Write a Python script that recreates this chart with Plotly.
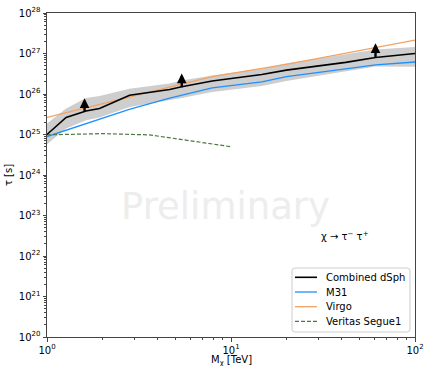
import math
import plotly.graph_objects as go

# ---- data ----
mass_dsph = [1.0, 1.27, 1.63, 1.93, 2.81, 4.64, 5.4, 7.9, 14.7, 20.0, 42.0, 61.0, 100.0]
tau_dsph = [1.0e25, 2.63e25, 3.80e25, 4.37e25, 9.33e25, 1.29e26, 1.51e26, 2.09e26, 3.02e26, 3.89e26, 6.03e26, 7.94e26, 1.0e27]
band_hi = [1.86e25, 4.37e25, 7.94e25, 8.91e25, 1.35e26, 1.82e26, 2.14e26, 2.88e26, 4.27e26, 5.75e26, 9.55e26, 1.26e27, 1.45e27]
band_lo = [5.75e24, 1.41e25, 2.24e25, 2.63e25, 4.79e25, 6.92e25, 7.94e25, 1.12e26, 1.58e26, 2.09e26, 3.55e26, 4.79e26, 4.68e26]

mass_m31 = [1.0, 1.6, 2.8, 4.64, 7.9, 14.7, 20.0, 42.0, 61.0, 100.0]
tau_m31 = [8.9e24, 1.78e25, 4.17e25, 7.94e25, 1.41e26, 2.0e26, 2.69e26, 4.17e26, 5.25e26, 6.17e26]

mass_virgo = [1.0, 4.64, 7.9, 20.0, 61.0, 100.0]
tau_virgo = [2.63e25, 1.48e26, 2.69e26, 5.37e26, 1.41e27, 2.14e27]

mass_segue = [1.0, 2.0, 3.6, 4.64, 7.9, 10.0]
tau_segue = [9.8e24, 1.05e25, 9.8e24, 8.3e24, 6.0e24, 5.0e24]

limit_mass = [1.6, 5.4, 61.0]
limit_base = [3.3e25, 1.35e26, 7.4e26]
limit_top = [7.8e25, 3.2e26, 1.78e27]

y_tickvals = [10.0 ** k for k in range(20, 29)]
y_ticktext = ["10<sup>%d</sup>" % k for k in range(20, 29)]
x_tickvals = [1, 10, 100]
x_ticktext = ["10<sup>0</sup>", "10<sup>1</sup>", "10<sup>2</sup>"]

legend_names = ["Combined dSph", "M31", "Virgo", "Veritas Segue1"]
legend_colors = ["black", "#1e90ff", "#f4a261", "#4a7a3f"]
legend_dash = ["solid", "solid", "solid", "4px,2px"]
legend_widths = [1.6, 1.3, 1.3, 1.2]

FONT = "DejaVu Sans"
W, H = 424, 366
ML, MR, MT, MB = 47, 9, 13, 29
PW, PH = W - ML - MR, H - MT - MB


def px(x):
    return (x - ML) / PW


def py(y):
    return (H - MB - y) / PH


fig = go.Figure()

# uncertainty band
fig.add_trace(go.Scatter(x=mass_dsph, y=band_hi, mode="lines", line=dict(width=0),
                         showlegend=False, hoverinfo="skip"))
fig.add_trace(go.Scatter(x=mass_dsph, y=band_lo, mode="lines", line=dict(width=0),
                         fill="tonexty", fillcolor="rgba(190,190,190,0.75)",
                         showlegend=False, hoverinfo="skip"))

fig.add_trace(go.Scatter(x=mass_virgo, y=tau_virgo, mode="lines", showlegend=False,
                         line=dict(color=legend_colors[2], width=legend_widths[2])))
fig.add_trace(go.Scatter(x=mass_m31, y=tau_m31, mode="lines", showlegend=False,
                         line=dict(color=legend_colors[1], width=legend_widths[1])))
fig.add_trace(go.Scatter(x=mass_segue, y=tau_segue, mode="lines", showlegend=False,
                         line=dict(color=legend_colors[3], width=legend_widths[3], dash=legend_dash[3])))
fig.add_trace(go.Scatter(x=mass_dsph, y=tau_dsph, mode="lines", showlegend=False,
                         line=dict(color=legend_colors[0], width=legend_widths[0])))

for m, b, t in zip(limit_mass, limit_base, limit_top):
    fig.add_annotation(x=math.log10(m), y=math.log10(t), ax=math.log10(m), ay=math.log10(b),
                       xref="x", yref="y", axref="x", ayref="y", text="",
                       showarrow=True, arrowhead=2, arrowsize=0.8, arrowwidth=2.4,
                       arrowcolor="black")

fig.add_annotation(x=px(225), y=py(206), xref="paper", yref="paper", text="Preliminary",
                   showarrow=False, font=dict(family=FONT, size=37, color="#ededed"))
fig.add_annotation(x=px(319), y=py(236), xref="paper", yref="paper",
                   text="χ → τ<sup>−</sup> τ<sup>+</sup>", xanchor="left", yanchor="middle",
                   showarrow=False, font=dict(family=FONT, size=10, color="black"))

# x-axis title placed explicitly below the tick labels
fig.add_annotation(x=px(231), y=py(360.5), xref="paper", yref="paper",
                   text="M<sub>χ</sub> [TeV]", xanchor="center", yanchor="middle",
                   showarrow=False, font=dict(family=FONT, size=10, color="black"))

# manual legend (matplotlib-like compact box)
x0, x1, y0, y1, r = px(292), px(410), py(268), py(332), 3.0 / PW
ry = 3.0 / PH
path = (f"M {x0 + r},{y0} L {x1 - r},{y0} Q {x1},{y0} {x1},{y0 - ry} "
        f"L {x1},{y1 + ry} Q {x1},{y1} {x1 - r},{y1} L {x0 + r},{y1} "
        f"Q {x0},{y1} {x0},{y1 + ry} L {x0},{y0 - ry} Q {x0},{y0} {x0 + r},{y0} Z")
fig.add_shape(type="path", path=path, xref="paper", yref="paper",
              line=dict(color="#cccccc", width=1), fillcolor="rgba(255,255,255,0.85)",
              layer="above")
for i, name in enumerate(legend_names):
    yy = py(277.3 + 14.7 * i)
    fig.add_shape(type="line", xref="paper", yref="paper", x0=px(295), x1=px(317), y0=yy, y1=yy,
                  line=dict(color=legend_colors[i], width=legend_widths[i],
                            dash=legend_dash[i]), layer="above")
    fig.add_annotation(x=px(324), y=yy, xref="paper", yref="paper", text=name,
                       xanchor="left", yanchor="middle", showarrow=False,
                       font=dict(family=FONT, size=10, color="black"))

axis_common = dict(type="log", showgrid=False, zeroline=False, showline=True,
                   linecolor="#444", linewidth=1, mirror=True, ticks="outside",
                   ticklen=3.5, tickwidth=0.8, tickcolor="#444", automargin=False,
                   tickfont=dict(family=FONT, size=10, color="black"),
                   minor=dict(ticks="outside", ticklen=2, tickwidth=0.6, tickcolor="#444",
                              dtick="D1", showgrid=False))

fig.update_xaxes(range=[0, 2], tickvals=x_tickvals, ticktext=x_ticktext, **axis_common)
fig.update_yaxes(range=[20, 28], tickvals=y_tickvals, ticktext=y_ticktext,
                 title=dict(text="τ [s]", font=dict(family=FONT, size=10), standoff=4),
                 **axis_common)

fig.update_layout(
    width=W, height=H,
    margin=dict(l=ML, r=MR, t=MT, b=MB),
    paper_bgcolor="white", plot_bgcolor="white",
    font=dict(family=FONT, size=10, color="black"),
    showlegend=False,
)

fig.write_html("out.html")
